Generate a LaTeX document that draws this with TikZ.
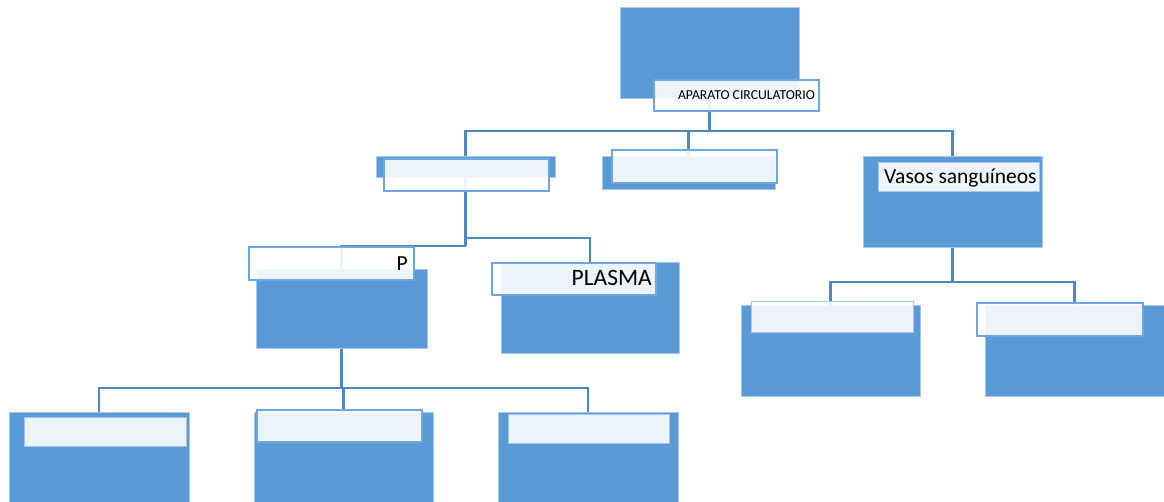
\documentclass[tikz,border=0pt]{standalone}
\usepackage{fontspec}
\setmainfont{Carlito}
\usetikzlibrary{backgrounds}
\definecolor{bluefill}{RGB}{91,155,213}
\definecolor{blueedge}{RGB}{165,199,236}
\definecolor{lightline}{RGB}{112,166,222}
\definecolor{connc}{RGB}{80,135,195}
\tikzset{
 bluebox/.style={rectangle, fill=bluefill, draw=blueedge, line width=0.8pt, anchor=north west, inner sep=0pt, outer sep=0pt},
 lightbox/.style={rectangle, fill=white, fill opacity=0.89, draw=lightline, line width=2pt, anchor=north west, inner sep=0pt, outer sep=0pt},
 conn/.style={draw=connc, line width=2.5pt},
 txt/.style={inner sep=0pt, text=black},
 bigtxt/.style={txt, font=\fontsize{21.5}{24}\selectfont},
}
\begin{document}
\begin{tikzpicture}[x=1pt,y=-1pt]
\useasboundingbox (0,0) rectangle (1164,502);
% level 1
\node[bluebox, minimum width=179, minimum height=91] (top) at (620,7) {};
\node[lightbox, minimum width=165, minimum height=31] (toplab) at (654,80) {};
\node[txt, anchor=base east, font=\fontsize{13.7}{16}\selectfont] (toptxt) at (815,100) {APARATO CIRCULATORIO};
% level 2
\node[bluebox, minimum width=179, minimum height=21] (c1) at (376,156) {};
\node[lightbox, minimum width=165, minimum height=32] (c1l) at (384,159) {};
\node[bluebox, minimum width=173, minimum height=33] (c2) at (602,156) {};
\node[lightbox, minimum width=165, minimum height=33] (c2l) at (612,150) {};
\node[bluebox, minimum width=179, minimum height=91] (vas) at (863,156) {};
\node[lightbox, draw=blueedge, line width=1pt, minimum width=161, minimum height=29] (vasl) at (878,163) {};
\node[bigtxt, anchor=base west] (vastxt) at (884,184) {Vasos sanguíneos};
% level 3 (left)
\node[bluebox, minimum width=171, minimum height=79] (pb) at (256,269) {};
\node[lightbox, minimum width=165, minimum height=33] (pl) at (249,247) {};
\node[bigtxt, anchor=base east] (ptxt) at (408,271) {P};
\node[bluebox, minimum width=178, minimum height=91] (pla) at (501,262) {};
\node[lightbox, minimum width=164, minimum height=32] (plal) at (492,263) {};
\node[bigtxt, anchor=base east, font=\fontsize{23.5}{26}\selectfont] (platxt) at (652,286) {PLASMA};
% level 3 (right)
\node[bluebox, minimum width=179, minimum height=91] (v1) at (741,305) {};
\node[lightbox, draw=blueedge, line width=1pt, minimum width=162, minimum height=31] (v1l) at (751,302) {};
\node[bluebox, minimum width=179, minimum height=91] (v2) at (985,305) {};
\node[lightbox, minimum width=166, minimum height=33] (v2l) at (977,303) {};
% level 4
\node[bluebox, minimum width=180, minimum height=90] (g1) at (9,412) {};
\node[lightbox, draw=blueedge, line width=1pt, minimum width=162, minimum height=29] (g1l) at (24,417) {};
\node[bluebox, minimum width=179, minimum height=90] (g2) at (254,412) {};
\node[lightbox, minimum width=165, minimum height=32] (g2l) at (257,410) {};
\node[bluebox, minimum width=180, minimum height=90] (g3) at (498,412) {};
\node[lightbox, draw=blueedge, line width=1pt, minimum width=161, minimum height=29] (g3l) at (508,414) {};
% connectors
\begin{pgfonlayer}{background}
\path (top.south) ++(0,33) coordinate (bus1);
\draw[conn] (top.south) -- (bus1);
\draw[conn] (c1.north) |- (bus1);
\draw[conn] (vas.north) |- (bus1);
\draw[conn] (c2.north) -- (c2.north |- bus1);
\path (c1.south) ++(0,61) coordinate (bus2);
\path (c1.south) ++(0,69) coordinate (bus3);
\draw[conn] (c1.south) -- (bus3);
\draw[conn] (bus2) -| (pla.north);
\draw[conn] (bus3) -| (pb.north);
\path (pb.south) ++(0,40) coordinate (bus4);
\draw[conn] (pb.south) -- (bus4);
\draw[conn] (g1.north) |- (bus4) -| (g3.north);
\draw[conn] (g2.north) -- (g2.north |- bus4);
\path (vas.south) ++(0,35) coordinate (bus5);
\draw[conn] (vas.south) -- (bus5);
\draw[conn] (v1.north) |- (bus5) -| (v2.north);
\end{pgfonlayer}
\end{tikzpicture}
\end{document}
